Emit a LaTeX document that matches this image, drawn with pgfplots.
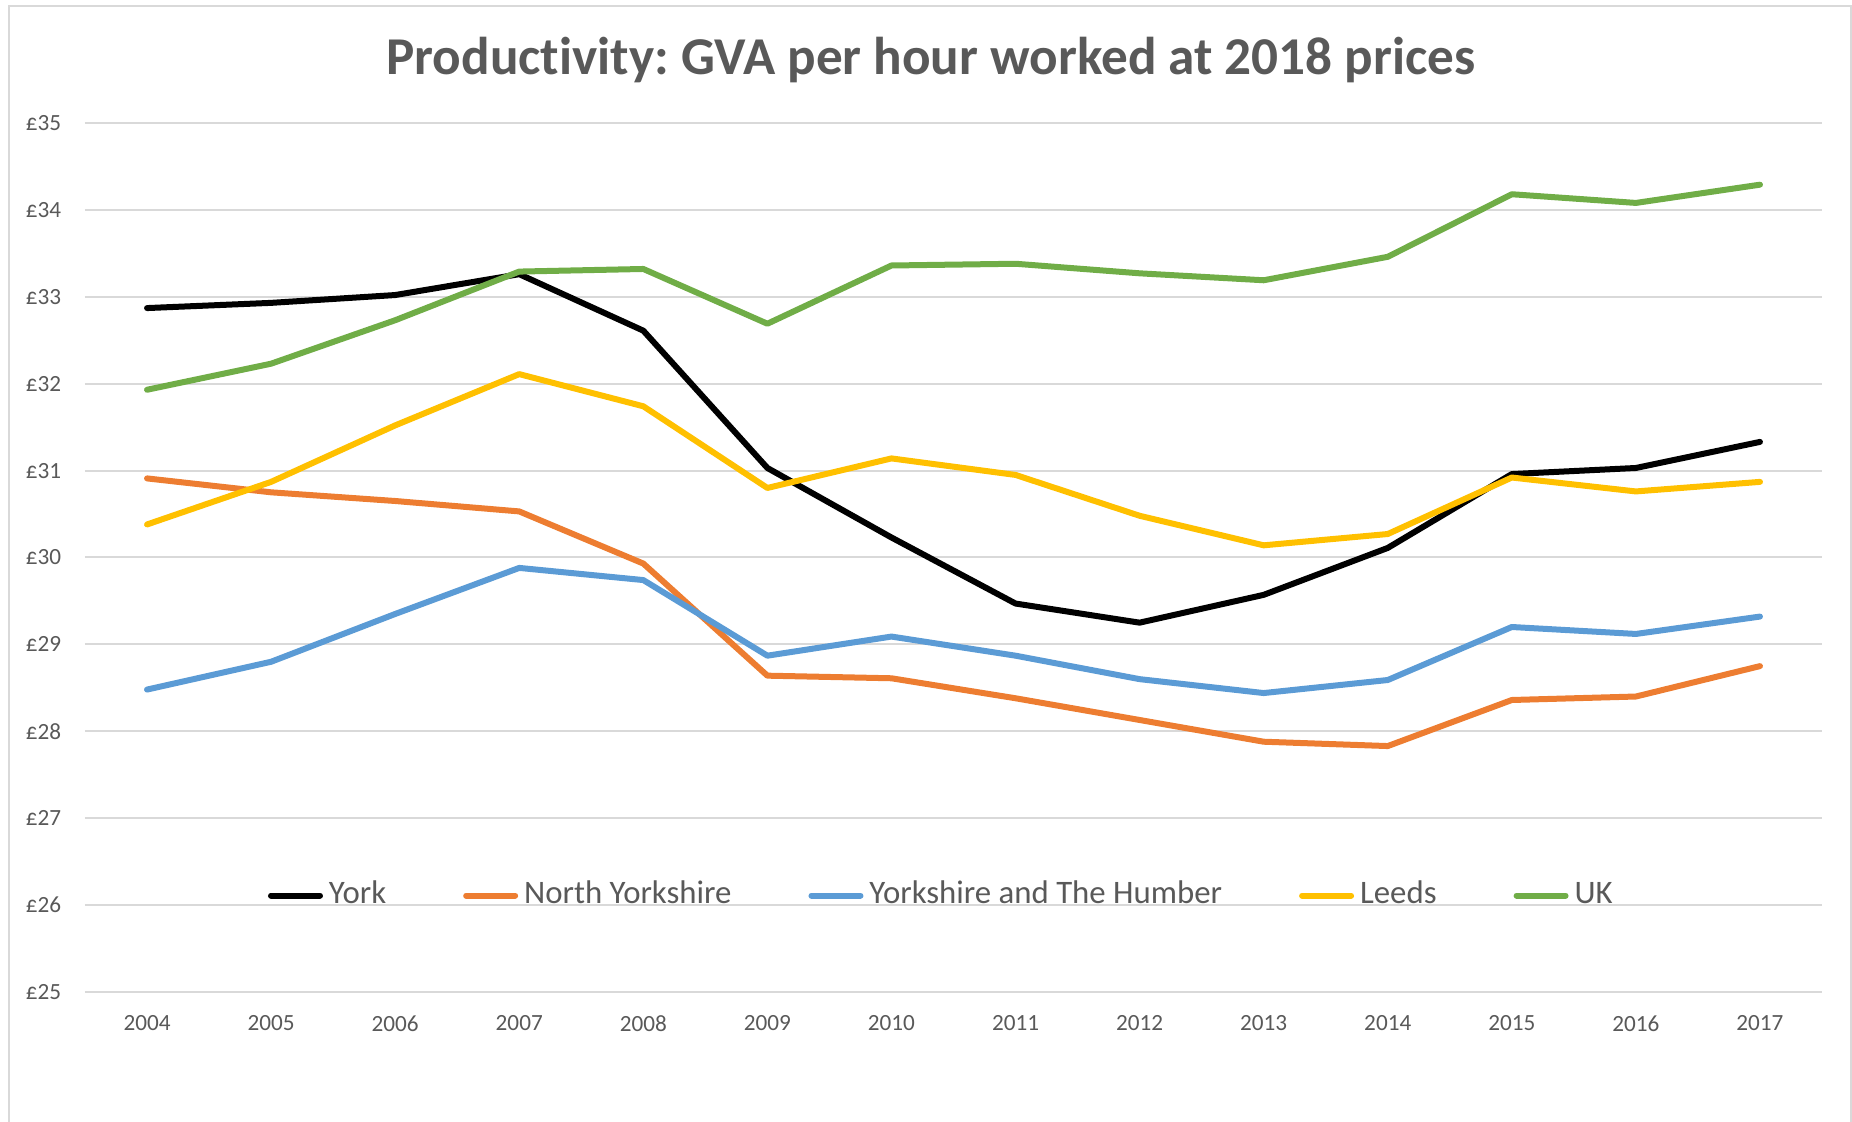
\documentclass[border=0pt]{standalone}
\usepackage{pgfplots}
\pgfplotsset{compat=1.18}
\usepackage{fontspec}
\setmainfont{Carlito}[Ligatures=NoCommon]
\frenchspacing

\definecolor{txt}{HTML}{595959}
\definecolor{gridgray}{HTML}{D9D9D9}
\definecolor{cyork}{HTML}{000000}
\definecolor{cnorth}{HTML}{ED7D31}
\definecolor{chumber}{HTML}{5B9BD5}
\definecolor{cleeds}{HTML}{FFC000}
\definecolor{cuk}{HTML}{70AD47}

\begin{document}
\begin{tikzpicture}
\begin{axis}[
    scale only axis,
    width=434.25pt, height=217.25pt,
    xmin=-0.5, xmax=13.5, ymin=25, ymax=35,
    xtick={0,...,13},
    xticklabels={2004,2005,2006,2007,2008,2009,2010,2011,2012,2013,2014,2015,2016,2017},
    ytick={25,...,35},
    yticklabels={£25,£26,£27,£28,£29,£30,£31,£32,£33,£34,£35},
    axis line style={draw=none},
    major tick length=0pt,
    ymajorgrids,
    grid style={line width=0.5pt, color=gridgray},
    tick label style={font=\fontsize{5.8}{7}\selectfont, text=txt},
    yticklabel style={inner sep=0pt, anchor=east, xshift=-5.75pt},
    xticklabel style={inner sep=0pt, anchor=north, yshift=-5.75pt},
    title={Productivity: GVA per hour worked at 2018 prices},
    title style={font=\fontsize{13.3}{16}\selectfont\bfseries, text=txt,
        at={(0.487,1)}, anchor=base, inner sep=0pt, yshift=6pt},
    legend columns=5,
    legend style={at={(0.493,0.111)}, anchor=center, draw=none, fill=none,
        font=\fontsize{8.2}{9}\selectfont, text=txt,
        nodes={inner sep=0.5pt},
        /tikz/every odd column/.append style={column sep=1pt},
        /tikz/every even column/.append style={column sep=18.75pt}},
    legend image code/.code={\draw[#1] (0pt,0pt) -- (12.25pt,0pt);},
    every axis plot/.append style={line width=1.5pt, line join=round, line cap=round},
]
% York
\addplot[color=cyork] coordinates {
    (0,32.87) (1,32.93) (2,33.02) (3,33.26) (4,32.61) (5,31.03) (6,30.23)
    (7,29.47) (8,29.25) (9,29.57) (10,30.11) (11,30.96) (12,31.03) (13,31.33)};
\addlegendentry{York}
% North Yorkshire
\addplot[color=cnorth] coordinates {
    (0,30.91) (1,30.75) (2,30.65) (3,30.53) (4,29.93) (5,28.64) (6,28.61)
    (7,28.38) (8,28.13) (9,27.88) (10,27.83) (11,28.36) (12,28.40) (13,28.75)};
\addlegendentry{North Yorkshire}
% Yorkshire and The Humber
\addplot[color=chumber] coordinates {
    (0,28.48) (1,28.80) (2,29.35) (3,29.88) (4,29.74) (5,28.87) (6,29.09)
    (7,28.87) (8,28.60) (9,28.44) (10,28.59) (11,29.20) (12,29.12) (13,29.32)};
\addlegendentry{Yorkshire and The Humber}
% Leeds
\addplot[color=cleeds] coordinates {
    (0,30.38) (1,30.87) (2,31.52) (3,32.11) (4,31.74) (5,30.80) (6,31.14)
    (7,30.95) (8,30.48) (9,30.14) (10,30.27) (11,30.92) (12,30.76) (13,30.87)};
\addlegendentry{Leeds}
% UK
\addplot[color=cuk] coordinates {
    (0,31.93) (1,32.23) (2,32.73) (3,33.29) (4,33.32) (5,32.69) (6,33.36)
    (7,33.38) (8,33.27) (9,33.19) (10,33.46) (11,34.18) (12,34.08) (13,34.29)};
\addlegendentry{UK}
\end{axis}
% chart frame
\draw[gridgray, line width=0.5pt]
    ([xshift=-19pt,yshift=-33pt]current axis.south west) rectangle
    ([xshift=7.25pt,yshift=29.25pt]current axis.north east);
\pgfresetboundingbox
\path[use as bounding box]
    ([xshift=-21.25pt,yshift=-32.5pt]current axis.south west) rectangle
    ([xshift=7.5pt,yshift=30.75pt]current axis.north east);
\end{tikzpicture}
\end{document}
